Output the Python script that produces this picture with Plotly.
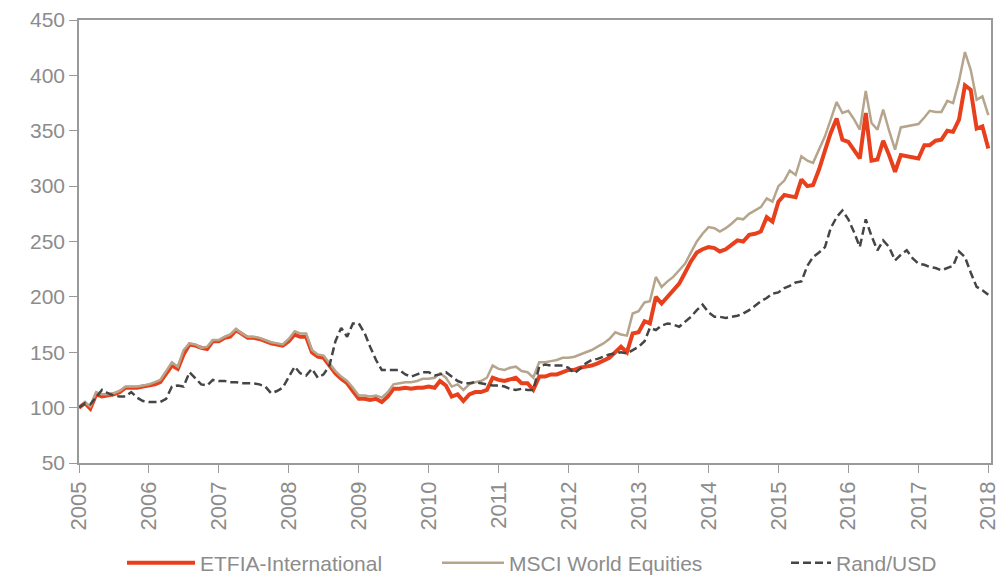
import pandas as pd
import plotly.graph_objects as go

# monthly index values, Jan 2005 .. Jan 2018 (rebased to 100)
dates = pd.date_range("2005-01-01", "2018-01-01", freq="MS")

etfia = [
    100, 104, 99, 112, 110, 111, 112, 114, 118, 118, 118, 119,       # 2005
    120, 121, 123, 130, 138, 135, 148, 157, 156, 154, 153, 160,      # 2006
    160, 163, 164, 170, 166, 163, 163, 162, 160, 158, 157, 156,      # 2007
    160, 166, 164, 164, 150, 146, 145, 138, 131, 126, 122, 115,      # 2008
    108, 108, 107, 108, 105, 110, 117, 117, 118, 117, 118, 118,      # 2009
    119, 118, 124, 120, 110, 112, 106, 112, 114, 114, 116, 127,      # 2010
    125, 124, 125, 127, 122, 122, 116, 128, 128, 130, 130, 132,      # 2011
    134, 134, 136, 137, 138, 140, 142, 145, 150, 155, 150, 167,      # 2012
    168, 178, 176, 200, 194, 200, 205, 212, 222, 232, 240, 243,      # 2013
    245, 244, 241, 243, 247, 251, 250, 256, 257, 259, 272, 268,      # 2014
    286, 292, 291, 290, 306, 300, 301, 315, 332, 348, 361, 342,      # 2015
    340, 333, 325, 366, 323, 324, 341, 328, 313, 328, 327, 326,      # 2016
    325, 337, 337, 341, 342, 350, 349, 360, 391, 387, 352, 354,      # 2017
    334,                                                             # 2018
]

msci = [
    100, 105, 101, 114, 112, 112, 113, 115, 119, 119, 119, 120,
    121, 123, 125, 133, 141, 137, 152, 158, 157, 154, 155, 161,
    161, 164, 166, 171, 167, 164, 164, 163, 161, 159, 158, 157,
    162, 169, 167, 167, 152, 148, 147, 140, 133, 128, 124, 118,
    111, 111, 110, 111, 109, 114, 121, 122, 123, 123, 124, 126,
    126, 127, 131, 127, 119, 121, 116, 121, 123, 124, 127, 138,
    135, 134, 136, 137, 133, 132, 127, 141, 141, 142, 143, 145,
    145, 146, 148, 150, 152, 155, 158, 162, 168, 166, 165, 185,
    187, 195, 196, 218, 209, 214, 218, 224, 230, 240, 250, 257,
    263, 262, 259, 262, 266, 271, 270, 275, 278, 281, 289, 286,
    300, 305, 314, 310, 327, 323, 321, 333, 345, 360, 376, 366,
    368, 360, 351, 386, 357, 351, 369, 350, 333, 353, 354, 355,
    356, 362, 368, 367, 367, 377, 375, 395, 421, 405, 378, 381,
    364,
]

rand_usd = [
    100, 104, 103, 110, 116, 113, 111, 110, 110, 114, 109, 106,
    105, 105, 105, 108, 119, 120, 119, 132, 126, 121, 120, 125,
    124, 124, 123, 123, 122, 122, 122, 121, 119, 113, 115, 118,
    128, 137, 131, 129, 135, 127, 130, 138, 160, 172, 164, 176,
    176, 167, 155, 143, 134, 134, 134, 134, 130, 128, 130, 132,
    132, 129, 130, 132, 128, 124, 122, 122, 123, 122, 121, 120,
    120, 119, 117, 116, 117, 116, 116, 137, 139, 138, 138, 138,
    136, 131, 135, 140, 143, 144, 146, 148, 149, 150, 149, 152,
    155, 160, 172, 170, 174, 176, 175, 173, 178, 182, 188, 193,
    186, 182, 182, 181, 182, 183, 185, 188, 192, 196, 199, 203,
    204, 208, 210, 213, 214, 228, 236, 240, 245, 262, 272, 278,
    270, 258, 245, 270, 255, 242, 251, 245, 233, 238, 242, 235,
    230, 229, 227, 226, 224, 226, 228, 241, 236, 222, 209, 206,
    202,
]

axis_grey = '#9a9a9a'
label_grey = '#8c8c8c'

fig = go.Figure()
fig.add_trace(go.Scatter(x=dates, y=etfia, mode='lines', name='ETFIA-International',
                         line=dict(color='#E8401C', width=4), legend='legend'))
fig.add_trace(go.Scatter(x=dates, y=msci, mode='lines', name='MSCI World Equities',
                         line=dict(color='#B5A58C', width=2.5), legend='legend2'))
fig.add_trace(go.Scatter(x=dates, y=rand_usd, mode='lines', name='Rand/USD',
                         line=dict(color='#454545', width=2.5, dash='8px,4px'), legend='legend3'))

# one legend per series so the entries sit where the original has them
leg = dict(orientation='h', xanchor='left', xref='container', yref='container',
           y=0.0229, yanchor='middle', bgcolor='rgba(0,0,0,0)',
           font=dict(size=21, color=label_grey))

# page body has an 8px margin, so the figure is 1000x568
fig.update_layout(
    width=1000, height=568,
    margin=dict(l=71, r=17, t=12, b=113),
    paper_bgcolor='white', plot_bgcolor='white',
    font=dict(family='Liberation Sans, Arial, sans-serif', color=label_grey, size=20),
    showlegend=True,
    legend=dict(leg, x=0.114, itemwidth=68),
    legend2=dict(leg, x=0.429, itemwidth=62),
    legend3=dict(leg, x=0.778, itemwidth=40),
)
fig.update_xaxes(
    type='date', range=['2005-01-01', '2018-01-15'], automargin=False,
    dtick='M12', tick0='2005-01-01', tickformat='%Y', tickangle=-90,
    ticks='outside', ticklen=8, tickcolor=axis_grey, tickfont=dict(size=22),
    showline=True, linecolor=axis_grey, linewidth=1.5, mirror=True,
    showgrid=False, zeroline=False,
)
fig.update_yaxes(
    range=[50, 450], dtick=50, automargin=False,
    ticks='outside', ticklen=8, tickcolor=axis_grey, tickfont=dict(size=21),
    showline=True, linecolor=axis_grey, linewidth=1.5, mirror=True,
    showgrid=False, zeroline=False,
)

fig.write_html("out.html")
